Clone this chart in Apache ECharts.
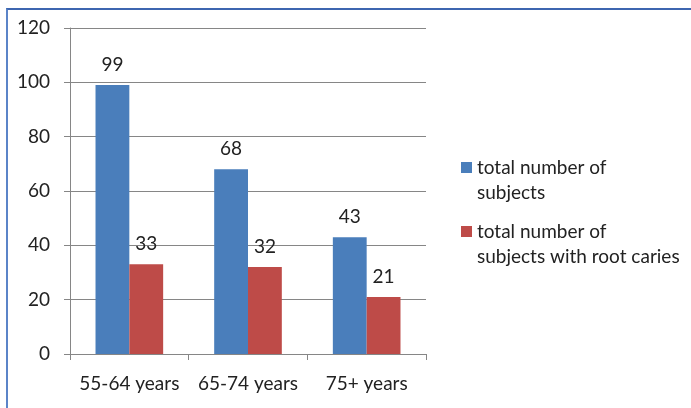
<!DOCTYPE html>
<html><head><meta charset="utf-8">
<script src="https://cdn.jsdelivr.net/npm/echarts@6/dist/echarts.min.js"></script>
<style>
html,body{margin:0;padding:0;background:#fff;}
#c{width:691px;height:408px;position:relative;}
#b{position:absolute;left:6px;top:8px;width:700px;height:420px;border-left:2px solid #5b84c8;border-top:2px solid #3d66b0;pointer-events:none;}
</style></head>
<body>
<div id="c"></div><div id="b"></div>
<script>
const categories = ['55-64 years', '65-74 years', '75+ years'];
const seriesNames = ['total number of\nsubjects', 'total number of\nsubjects with root caries'];
const totalSubjects = [99, 68, 43];
const rootCaries = [33, 32, 21];
const yTicks = { min: 0, max: 120, interval: 20 };

const font = 'Lato, "Open Sans", sans-serif';
const fs = 19;
const chart = echarts.init(document.getElementById('c'), null, { renderer: 'canvas' });
const legendBase = {
  orient: 'vertical', left: 461, padding: 0, itemWidth: 11, itemHeight: 11, itemGap: 5,
  icon: 'rect', selectedMode: false,
  formatter: name => '\n' + name,
  textStyle: { fontFamily: font, fontSize: fs, color: '#222', lineHeight: 25 }
};
chart.setOption({
  backgroundColor: '#fff',
  animation: false,
  legend: [
    Object.assign({}, legendBase, { top: 130, data: [seriesNames[0]] }),
    Object.assign({}, legendBase, { top: 194, data: [seriesNames[1]] })
  ],
  grid: { left: 70, top: 28, right: 265, bottom: 54, containLabel: false },
  xAxis: {
    type: 'category', data: categories,
    axisLine: { lineStyle: { color: '#868686', width: 1 } },
    axisTick: { show: true, length: 6, lineStyle: { color: '#868686' } },
    axisLabel: { interval: 0, hideOverlap: false, fontFamily: font, fontSize: fs, color: '#222', margin: 20 }
  },
  yAxis: {
    type: 'value', min: yTicks.min, max: yTicks.max, interval: yTicks.interval,
    axisLine: { show: true, lineStyle: { color: '#868686', width: 1 } },
    axisTick: { show: true, length: 6, lineStyle: { color: '#868686' } },
    splitLine: { show: true, lineStyle: { color: '#868686', width: 1 } },
    axisLabel: { fontFamily: font, fontSize: fs, color: '#222', margin: 20 }
  },
  series: [
    { name: seriesNames[0], type: 'bar', data: totalSubjects, barGap: '0%', barCategoryGap: '43%',
      itemStyle: { color: '#4a7ebb' },
      label: { show: true, position: 'top', distance: 11, fontFamily: font, fontSize: fs, color: '#222' } },
    { name: seriesNames[1], type: 'bar', data: rootCaries,
      itemStyle: { color: '#be4b48' },
      label: { show: true, position: 'top', distance: 11, fontFamily: font, fontSize: fs, color: '#222' } }
  ]
});
</script>
</body></html>
